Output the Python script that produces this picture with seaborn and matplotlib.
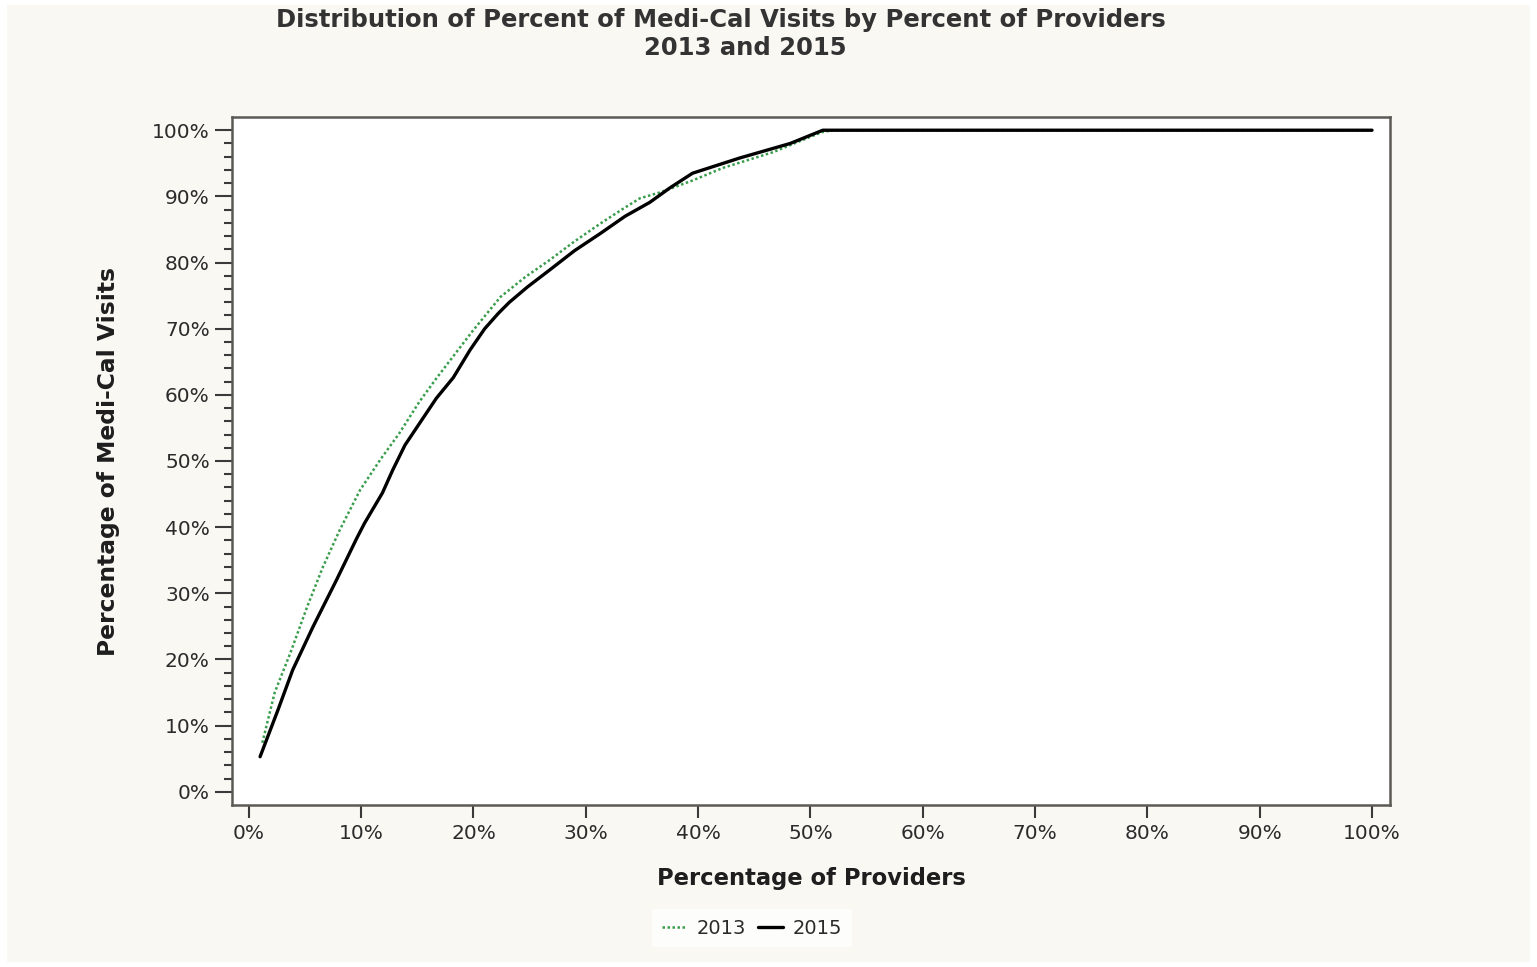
import pandas as pd
import matplotlib.pyplot as plt
import matplotlib.ticker as mticker
from matplotlib.patches import Rectangle
import seaborn as sns

sns.set_style('white')
plt.rcParams['font.family'] = ['DejaVu Sans']

# -----------------------------
# data (percent)
# -----------------------------
providers_2013 = [1.2, 2.3, 3.7, 5.2, 6.6, 8.1, 9.9, 11.7, 13.4, 15.2, 16.7, 17.6,
                  19.9, 22.4, 24.6, 26.8, 29.0, 31.3, 33.2, 34.8, 36.6, 39.5, 42.2,
                  46.7, 49.7, 51.0, 52.0, 60, 70, 80, 90, 100]
visits_2013 = [7.4, 15.0, 21.0, 28.0, 34.0, 39.6, 45.6, 50.2, 54.2, 59.0, 62.5, 64.5,
               69.6, 74.8, 77.8, 80.4, 83.2, 85.9, 88.0, 89.7, 90.6, 92.4, 94.3,
               96.7, 98.8, 99.7, 100, 100, 100, 100, 100, 100]

providers_2015 = [1.0, 2.6, 3.9, 5.7, 7.8, 9.6, 10.3, 11.9, 12.8, 13.9, 15.2, 16.7,
                  18.2, 19.7, 21.0, 22.2, 23.2, 24.8, 26.8, 29.0, 31.3, 33.5, 35.7,
                  37.5, 39.5, 43.7, 48.2, 51.1, 60, 70, 80, 90, 100]
visits_2015 = [5.3, 12.4, 18.4, 24.9, 32.0, 38.3, 40.6, 45.2, 48.6, 52.4, 55.7, 59.5,
               62.6, 66.8, 70.0, 72.3, 74.0, 76.3, 78.9, 81.8, 84.4, 87.0, 89.1,
               91.3, 93.5, 95.8, 98.0, 100, 100, 100, 100, 100, 100]

years = ['2013', '2015']
line_colors = {'2013': '#3a9d4c', '2015': '#000000'}

df = pd.concat([
    pd.DataFrame({'providers': providers_2013, 'visits': visits_2013, 'year': '2013'}),
    pd.DataFrame({'providers': providers_2015, 'visits': visits_2015, 'year': '2015'}),
])

fig = plt.figure(figsize=(15.37, 9.67), dpi=100, facecolor='white')
fig.patches.append(Rectangle((7 / 1537, 5 / 967), 1523 / 1537, 957 / 967,
                             transform=fig.transFigure, facecolor='#f9f8f3',
                             edgecolor='none', zorder=-5))
ax = fig.add_axes([232 / 1537, 1 - 805 / 967, 1158 / 1537, 688 / 967])
ax.set_zorder(2)
ax.set_facecolor('white')

# green dotted first, black solid on top
sns.lineplot(data=df[df.year == '2013'], x='providers', y='visits', ax=ax,
             color=line_colors['2013'], linewidth=1.8, linestyle=(0, (1, 1)),
             label='2013', estimator=None, sort=False)
sns.lineplot(data=df[df.year == '2015'], x='providers', y='visits', ax=ax,
             color=line_colors['2015'], linewidth=2.4,
             label='2015', estimator=None, sort=False)

ax.set_xlim(-1.5, 101.6)
ax.set_ylim(-2, 102)
ax.xaxis.set_major_locator(mticker.MultipleLocator(10))
ax.yaxis.set_major_locator(mticker.MultipleLocator(10))
ax.yaxis.set_minor_locator(mticker.FixedLocator([v for v in range(0, 101, 2) if v % 10]))
pct = mticker.FuncFormatter(lambda v, p: f"{v:.0f}%")
ax.xaxis.set_major_formatter(pct)
ax.yaxis.set_major_formatter(pct)

for s in ax.spines.values():
    s.set_color('#5c5a55')
    s.set_linewidth(1.8)

ax.tick_params(axis='both', which='major', direction='out', color='#3a3a3a',
               width=1.5, labelsize=14.5, labelcolor='#2b2b2b',
               bottom=True, left=True)
ax.tick_params(axis='x', which='major', length=9, pad=5)
ax.tick_params(axis='y', which='major', length=12, pad=4)
ax.tick_params(axis='y', which='minor', direction='out', length=6, width=1.5,
               color='#3a3a3a', left=True)

ax.set_xlabel('Percentage of Providers', fontsize=16.3, fontweight='bold',
              color='#1e1e1e', labelpad=17)
ax.set_ylabel('Percentage of Medi-Cal Visits', fontsize=16.8, fontweight='bold',
              color='#1e1e1e', labelpad=23)

fig.text(721 / 1537, 1 - 20 / 967, 'Distribution of Percent of Medi-Cal Visits by Percent of Providers',
         ha='center', va='center', fontsize=17.5, fontweight='bold', color='#333333')
fig.text(745 / 1537, 1 - 48 / 967, '2013 and 2015',
         ha='center', va='center', fontsize=17.5, fontweight='bold', color='#333333')

ax.get_legend().remove()
handles, labels = ax.get_legend_handles_labels()
leg = fig.legend(handles, labels, loc='center', bbox_to_anchor=(752 / 1537, 1 - 928 / 967),
                 ncol=2, frameon=True, facecolor='white', edgecolor='none', fancybox=False,
                 fontsize=14, handlelength=1.3, handletextpad=0.5, columnspacing=0.6,
                 borderpad=0.5)
for t in leg.get_texts():
    t.set_color('#2b2b2b')

fig.savefig('out.png', dpi=100, facecolor=fig.get_facecolor())
